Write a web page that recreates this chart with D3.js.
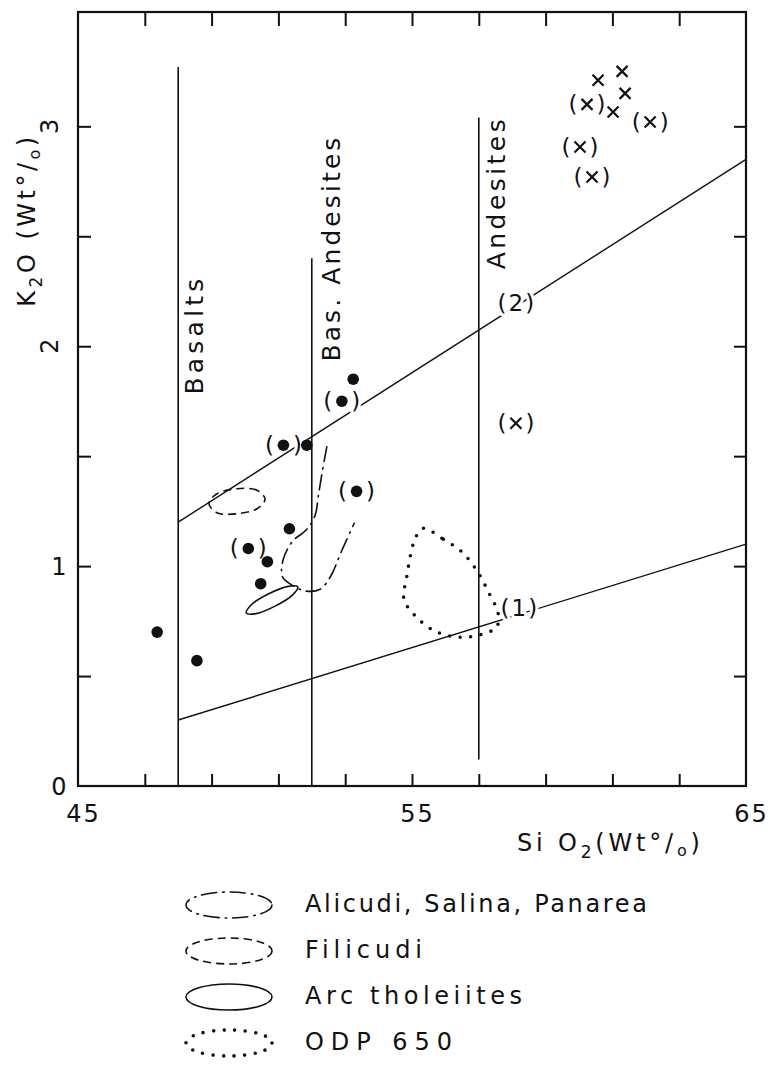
<!DOCTYPE html>
<html><head><meta charset="utf-8">
<script src="https://cdn.jsdelivr.net/npm/d3@7"></script>
<style>
body{margin:0;background:#fff}
svg{display:block;background:#fff}
text{font-family:"DejaVu Sans",sans-serif;fill:#111}
</style>
</head><body>
<svg id="chart" width="770" height="1065"></svg>
<script>
// ---------- data ----------
const xDomain = [45, 65];
const yDomain = [0, 3.52];
const xTickValues = [47, 49, 51, 53, 55, 57, 59, 61, 63];
const xTickLabels = [45, 55, 65];
const yTickValues = [0.5, 1, 1.5, 2, 2.5, 3];
const yTickLabels = [0, 1, 2, 3];

const fieldNames = ["Basalts", "Bas. Andesites", "Andesites"];
const fieldSiO2 = [48, 52, 57];
const fieldTopK2O = [3.27, 2.40, 3.04];
const fieldBottomK2O = [0, 0, 0.12];

const boundary1 = [[48, 0.30], [65, 1.10]];
const boundary2 = [[48, 1.20], [65, 2.85]];
const boundaryLabels = ["(1)", "(2)"];
const boundaryLabelPos = [[58.23, 0.81], [58.14, 2.20]];

const dotSiO2 = [47.37, 48.56, 50.47, 50.67, 51.33, 51.85, 53.24];
const dotK2O  = [0.70, 0.57, 0.92, 1.02, 1.17, 1.55, 1.85];
const dotBrSiO2 = [50.10, 51.15, 52.90, 53.34];
const dotBrK2O  = [1.08, 1.55, 1.75, 1.34];
const crossSiO2 = [60.57, 61.29, 61.38, 61.02];
const crossK2O  = [3.21, 3.25, 3.15, 3.065];
const crossBrSiO2 = [60.24, 62.13, 60.03, 60.39, 58.11];
const crossBrK2O  = [3.10, 3.02, 2.906, 2.77, 1.65];

// field outlines [SiO2, K2O]
const aeolianOutline = [[52.45,1.543],[52.31,1.427],[52.20,1.323],[52.10,1.232],[51.83,1.164],[51.43,1.114],[51.14,1.028],[51.12,0.952],[51.35,0.919],[51.80,0.887],[52.25,0.895],[52.57,0.955],[52.87,1.061],[53.27,1.195]];
const filicudiOutline = [[50.60,1.305],[50.36,1.345],[49.76,1.352],[49.15,1.328],[48.92,1.285],[49.16,1.243],[49.76,1.238],[50.37,1.262]];
const arcTholOutline = [[51.58,0.906],[51.42,0.868],[50.90,0.818],[50.33,0.784],[50.04,0.786],[50.19,0.824],[50.71,0.874],[51.29,0.908]];
const odpOutline = [[55.34,1.172],[55.94,1.122],[56.49,1.065],[56.96,0.975],[57.31,0.876],[57.58,0.785],[57.54,0.724],[57.24,0.697],[56.49,0.676],[55.72,0.702],[55.14,0.767],[54.76,0.849],[54.84,0.949],[54.99,1.073],[55.12,1.134]];

const legendLabels = ["Alicudi, Salina, Panarea", "Filicudi", "Arc tholeiites", "ODP 650"];

// ---------- drawing ----------
const svg = d3.select("#chart");
const x = d3.scaleLinear().domain(xDomain).range([78, 746]);
const y = d3.scaleLinear().domain(yDomain).range([786, 12]);
const ink = "#111";

const styles = {
  dashdot: {dash: "15 6 1.5 6", width: 1.6, cap: "round"},
  dashed:  {dash: "8 5", width: 1.6, cap: "butt"},
  solid:   {dash: null, width: 1.6, cap: "butt"},
  dotted:  {dash: "0 10.5", width: 3.6, cap: "round"}
};
const legendStyles = ["dashdot", "dashed", "solid", "dotted"];

function fit(sel, target) {
  const node = sel.node();
  const len = node.getComputedTextLength();
  const n = node.textContent.length;
  if (n > 1) sel.attr("letter-spacing", (target - len) / (n - 1));
  return sel;
}

// frame
svg.append("rect")
  .attr("x", x(xDomain[0])).attr("y", y(yDomain[1]))
  .attr("width", x(xDomain[1]) - x(xDomain[0]))
  .attr("height", y(yDomain[0]) - y(yDomain[1]))
  .attr("fill", "none").attr("stroke", ink).attr("stroke-width", 2.2);

function styleTicks(g, w) {
  g.select(".domain").remove();
  g.selectAll(".tick line").attr("stroke", ink).attr("stroke-width", w);
}
svg.append("g").attr("transform", `translate(0,${y(0)})`)
  .call(d3.axisBottom(x).tickValues(xTickValues).tickSize(-12).tickFormat(""))
  .call(g => styleTicks(g, 2));
svg.append("g").attr("transform", `translate(0,${y(yDomain[1])})`)
  .call(d3.axisTop(x).tickValues(xTickValues).tickSize(-14).tickFormat(""))
  .call(g => styleTicks(g, 2));
svg.append("g").attr("transform", `translate(${x(xDomain[0])},0)`)
  .call(d3.axisLeft(y).tickValues(yTickValues).tickSize(-13).tickFormat(""))
  .call(g => styleTicks(g, 2));
svg.append("g").attr("transform", `translate(${x(xDomain[1])},0)`)
  .call(d3.axisRight(y).tickValues(yTickValues).tickSize(-12).tickFormat(""))
  .call(g => styleTicks(g, 2));

// x tick labels
const xl = svg.append("g").attr("transform", `translate(0,${y(0)})`)
  .call(d3.axisBottom(x).tickValues(xTickLabels).tickSize(0).tickPadding(19).tickFormat(d3.format("d")));
xl.select(".domain").remove();
xl.selectAll("text").attr("font-size", 24).attr("fill", ink).attr("font-family", "DejaVu Sans")
  .attr("letter-spacing", 2).attr("dx", 5);

// y tick labels (0 and 1 upright, 2 and 3 turned like the axis title)
svg.append("g").selectAll("text")
  .data(yTickLabels)
  .join("text")
  .attr("font-size", 24)
  .attr("text-anchor", "middle")
  .attr("dy", "0.36em")
  .attr("transform", d => d >= 2
      ? `translate(${x(xDomain[0]) - 29},${y(d)}) rotate(-90)`
      : `translate(${x(xDomain[0]) - 19},${y(d)})`)
  .text(d => d);

// field boundary verticals
fieldSiO2.forEach((s, i) => {
  svg.append("line")
    .attr("x1", x(s)).attr("x2", x(s))
    .attr("y1", y(fieldTopK2O[i])).attr("y2", y(fieldBottomK2O[i]))
    .attr("stroke", ink).attr("stroke-width", 1.6);
});
// field names (rotated)
const fieldLabelOffset = [16, 19, 17];
const fieldLabelBottom = [1.78, 1.93, 2.35];
const fieldLabelLen = [116, 224, 150];
fieldNames.forEach((n, i) => {
  svg.append("text")
    .attr("transform", `translate(${x(fieldSiO2[i]) + fieldLabelOffset[i]},${y(fieldLabelBottom[i])}) rotate(-90)`)
    .attr("dy", "0.36em").attr("font-size", 25)
    .text(n)
    .call(s => fit(s, fieldLabelLen[i]));
});

// boundary lines
const line = d3.line().x(d => x(d[0])).y(d => y(d[1]));
[boundary1, boundary2].forEach(b => {
  svg.append("path").attr("d", line(b)).attr("fill", "none")
    .attr("stroke", ink).attr("stroke-width", 1.4);
});

// field outlines
function outline(data, style, closed) {
  const st = styles[style];
  const gen = d3.line().x(d => x(d[0])).y(d => y(d[1]))
    .curve(closed ? d3.curveCatmullRomClosed.alpha(0.5) : d3.curveCatmullRom.alpha(0.5));
  svg.append("path").attr("d", gen(data)).attr("fill", "none")
    .attr("stroke", ink).attr("stroke-width", st.width)
    .attr("stroke-linecap", st.cap)
    .attr("stroke-dasharray", st.dash);
}
outline(aeolianOutline, "dashdot", false);
outline(filicudiOutline, "dashed", true);
outline(arcTholOutline, "solid", true);
outline(odpOutline, "dotted", true);

// labels with halo (mask lines)
function halo(sel) {
  return sel.attr("stroke", "#fff").attr("stroke-width", 6)
    .attr("paint-order", "stroke").attr("stroke-linejoin", "round");
}
boundaryLabels.forEach((t, i) => {
  svg.append("text").call(halo)
    .attr("x", x(boundaryLabelPos[i][0])).attr("y", y(boundaryLabelPos[i][1]))
    .attr("dy", "0.36em").attr("text-anchor", "middle").attr("font-size", 23)
    .attr("letter-spacing", 2)
    .text(t);
});

// parentheses for bracketed samples
function parens(sx, ky) {
  const g = svg.append("g");
  sx.forEach((s, i) => {
    [["(", -14], [")", 14]].forEach(([c, off]) => {
      g.append("text").call(halo)
        .attr("x", x(s) + off).attr("y", y(ky[i]))
        .attr("dy", "0.34em").attr("text-anchor", "middle").attr("font-size", 23)
        .text(c);
    });
  });
}
parens(dotBrSiO2, dotBrK2O);
parens(crossBrSiO2, crossBrK2O);

// dots
svg.append("g").selectAll("circle")
  .data(dotSiO2.map((s, i) => [s, dotK2O[i]]).concat(dotBrSiO2.map((s, i) => [s, dotBrK2O[i]])))
  .join("circle")
  .attr("cx", d => x(d[0])).attr("cy", d => y(d[1])).attr("r", 5.8).attr("fill", ink);

// crosses
svg.append("g").selectAll("path")
  .data(crossSiO2.map((s, i) => [s, crossK2O[i]]).concat(crossBrSiO2.map((s, i) => [s, crossBrK2O[i]])))
  .join("path")
  .attr("transform", d => `translate(${x(d[0])},${y(d[1])})`)
  .attr("d", "M-5.5,-5.5L5.5,5.5M-5.5,5.5L5.5,-5.5")
  .attr("fill", "none").attr("stroke", ink).attr("stroke-width", 2.2);

// axis titles
const yt = svg.append("text")
  .attr("transform", `translate(26,220) rotate(-90)`)
  .attr("text-anchor", "middle")
  .attr("dy", "0.36em").attr("font-size", 24).attr("letter-spacing", 3.5);
yt.append("tspan").text("K");
yt.append("tspan").attr("font-size", 17).attr("dy", 7).text("2");
yt.append("tspan").attr("dy", -7).text("O (Wt");
yt.append("tspan").text("°/");
yt.append("tspan").attr("font-size", 16).attr("dy", 5).text("o");
yt.append("tspan").attr("dy", -5).text(")");

const xt = svg.append("text")
  .attr("x", 517).attr("y", y(0) + 65).attr("font-size", 24);
xt.append("tspan").text("Si O");
xt.append("tspan").attr("font-size", 17).attr("dy", 7).text("2");
xt.append("tspan").attr("dy", -7).text("(Wt");
xt.append("tspan").text("°/");
xt.append("tspan").attr("font-size", 16).attr("dy", 5).text("o");
xt.append("tspan").attr("dy", -5).text(")");
fit(xt, 183);

// legend
const legendTextLen = [342, 117, 217, 147];
const lg = svg.append("g");
legendLabels.forEach((t, i) => {
  const cy = 903 + i * 46;
  const st = styles[legendStyles[i]];
  lg.append("ellipse").attr("cx", 229).attr("cy", cy + 2).attr("rx", 43).attr("ry", 13)
    .attr("fill", "none").attr("stroke", ink).attr("stroke-width", st.width)
    .attr("stroke-linecap", st.cap).attr("stroke-dasharray", st.dash);
  lg.append("text").attr("x", 305).attr("y", cy).attr("dy", "0.36em")
    .attr("font-size", 24).text(t)
    .call(s => fit(s, legendTextLen[i]));
});
</script>
</body></html>
